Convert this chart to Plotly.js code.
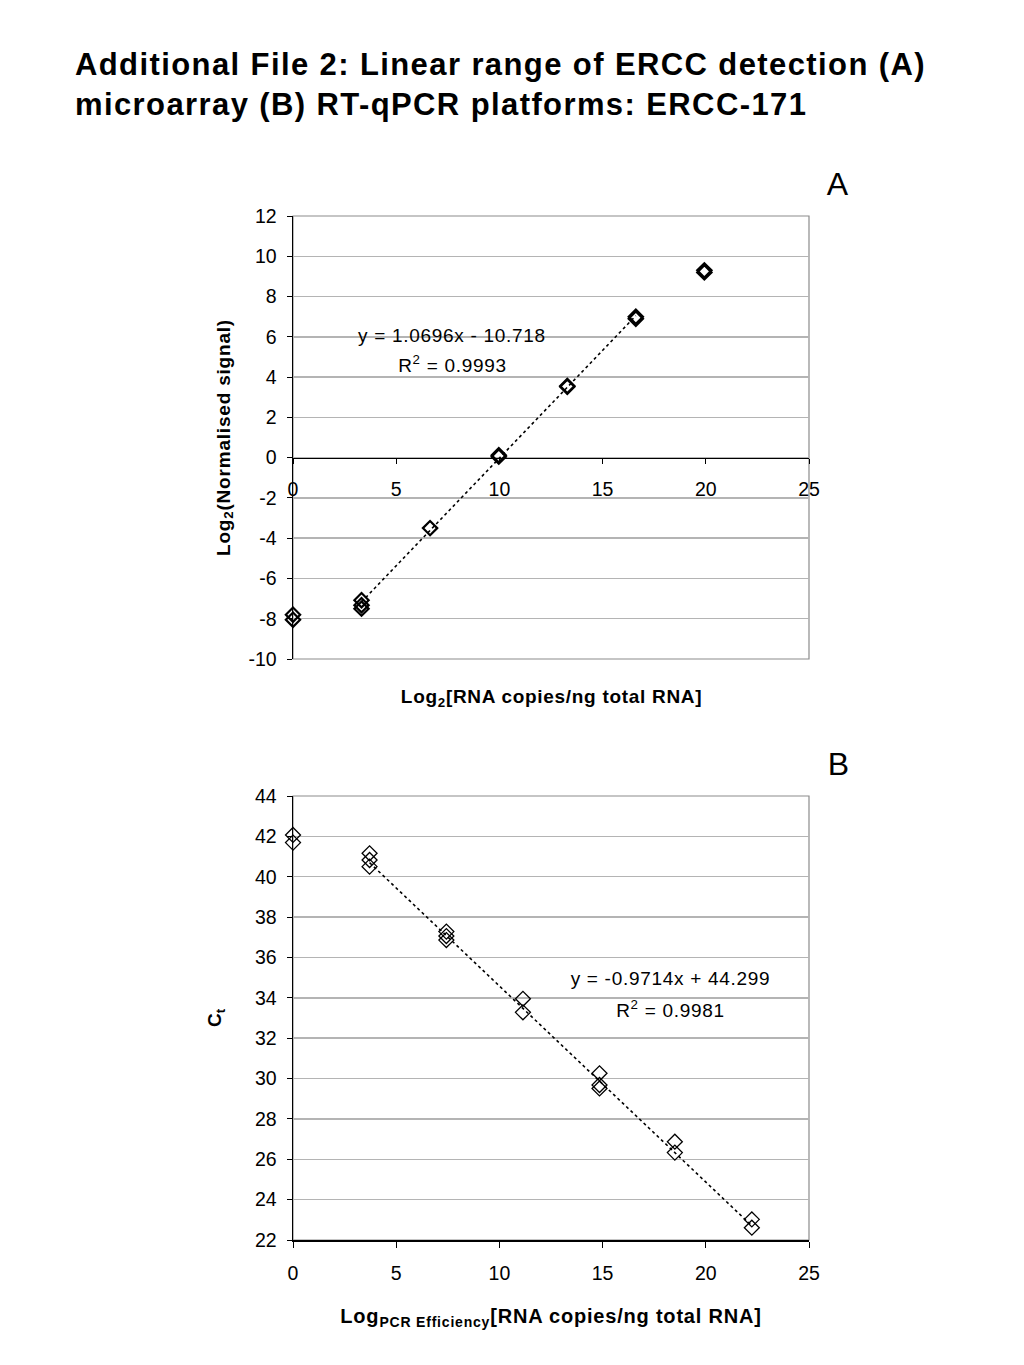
<!DOCTYPE html>
<html><head><meta charset="utf-8">
<script src="https://cdn.plot.ly/plotly-3.0.1.min.js"></script>
<style>
html,body{margin:0;padding:0;background:#fff}
#chart .gtitle{letter-spacing:1.4px}
#chart .ytitle,#chart .x2title{letter-spacing:0.8px}
#chart .annotation-text{letter-spacing:0.7px}
</style>
</head><body>
<div id="chart" style="width:1024px;height:1365px"></div>
<script>
// ---- Data ----
// Panel A: microarray
const xA = [0, 0, 3.32, 3.32, 3.32, 6.64, 9.97, 9.97, 13.29, 13.29, 16.61, 16.61, 19.93, 19.93];
const yA = [-7.8, -8.05, -7.08, -7.33, -7.5, -3.5, 0.05, 0.12, 3.52, 3.56, 6.9, 7.0, 9.2, 9.3];
const slopeA = 1.0696, interceptA = -10.718, r2A = 0.9993;
const fitRangeA = [3.32, 16.61];
// Panel B: RT-qPCR
const xB = [0, 0, 3.71, 3.71, 3.71, 7.43, 7.43, 7.43, 11.14, 11.14, 14.85, 14.85, 14.85, 18.5, 18.5, 22.23, 22.23];
const yB = [42.07, 41.69, 41.16, 40.83, 40.5, 37.28, 37.06, 36.86, 33.95, 33.28, 30.26, 29.68, 29.51, 26.87, 26.33, 23.02, 22.61];
const slopeB = -0.9714, interceptB = 44.299, r2B = 0.9981;
const fitRangeB = [3.71, 22.23];
// Tick values
const xTicks = [0, 5, 10, 15, 20, 25];
const yTicksA = [-10, -8, -6, -4, -2, 0, 2, 4, 6, 8, 10, 12];
const yTicksB = [22, 24, 26, 28, 30, 32, 34, 36, 38, 40, 42, 44];

const fontFam = '"Liberation Sans", Arial, sans-serif';
const fmtEq = (m, b) => 'y = ' + m + 'x ' + (b < 0 ? '- ' + Math.abs(b) : '+ ' + b);

const traces = [
  {x: xA, y: yA, xaxis: 'x', yaxis: 'y', mode: 'markers', type: 'scatter', cliponaxis: false,
   marker: {symbol: 'diamond-open', size: 11, color: '#000', line: {width: 2.2, color: '#000'}}},
  {x: fitRangeA, y: fitRangeA.map(v => slopeA * v + interceptA), xaxis: 'x', yaxis: 'y',
   mode: 'lines', type: 'scatter', line: {color: '#000', width: 1.6, dash: 'dot'}},
  {x: xB, y: yB, xaxis: 'x2', yaxis: 'y2', mode: 'markers', type: 'scatter', cliponaxis: false,
   marker: {symbol: 'diamond-open', size: 11.5, color: '#000', line: {width: 1.3, color: '#000'}}},
  {x: fitRangeB, y: fitRangeB.map(v => slopeB * v + interceptB), xaxis: 'x2', yaxis: 'y2',
   mode: 'lines', type: 'scatter', line: {color: '#000', width: 1.6, dash: 'dot'}}
];

const H = 1365, W = 1024;
const domX = [293 / W, 809 / W];
const domYA = [1 - 659 / H, 1 - 216 / H];
const domYB = [1 - 1240 / H, 1 - 796 / H];
const zeroPosA = domYA[0] + (0 - (-10)) / 22 * (domYA[1] - domYA[0]);

const tickFont = {family: fontFam, size: 19.5, color: '#000'};
const axTitleFont = {family: fontFam, size: 19, color: '#000', weight: 'bold'};
const eqFont = {family: fontFam, size: 19, color: '#000'};

const layout = {
  width: W, height: H,
  margin: {l: 0, r: 0, t: 0, b: 0},
  paper_bgcolor: '#fff', plot_bgcolor: '#fff',
  showlegend: false,
  font: {family: fontFam, color: '#000'},
  title: {text: '<b>Additional File 2: Linear range of ERCC detection (A)<br>microarray (B) RT-qPCR platforms: ERCC-171</b>',
          x: 75 / W, xanchor: 'left', y: 1 - 75 / H, yanchor: 'middle',
          font: {family: fontFam, size: 31, color: '#000'}},
  xaxis: {domain: domX, range: [0, 25], anchor: 'free', position: zeroPosA,
          tickvals: xTicks, ticktext: xTicks.map(String), tickfont: tickFont, ticklabelstandoff: 8,
          showgrid: false, zeroline: false, showline: true, linecolor: '#000', linewidth: 1.5,
          ticks: 'outside', ticklen: 5, tickcolor: '#000'},
  yaxis: {domain: domYA, range: [-10, 12], anchor: 'x',
          tickvals: yTicksA, ticktext: yTicksA.map(String), tickfont: tickFont, ticklabelstandoff: 6,
          showgrid: true, gridcolor: '#b4b4b4', gridwidth: 1.5, zeroline: false,
          showline: true, linecolor: '#000', linewidth: 1.5, ticks: 'outside', ticklen: 5, tickcolor: '#000',
          title: {text: 'Log<sub>2</sub>(Normalised signal)', font: axTitleFont, standoff: 13}},
  xaxis2: {domain: domX, range: [0, 25], anchor: 'y2',
          tickvals: xTicks, ticktext: xTicks.map(String), tickfont: tickFont, ticklabelstandoff: 9,
          showgrid: false, zeroline: false, showline: true, linecolor: '#000', linewidth: 1.5,
          ticks: 'outside', ticklen: 6, tickcolor: '#000',
          title: {text: 'Log<sub>PCR Efficiency</sub>[RNA copies/ng total RNA]', font: {family: fontFam, size: 20, color: '#000', weight: 'bold'}, standoff: 26}},
  yaxis2: {domain: domYB, range: [22, 44], anchor: 'x2',
          tickvals: yTicksB, ticktext: yTicksB.map(String), tickfont: tickFont, ticklabelstandoff: 6,
          showgrid: true, gridcolor: '#b4b4b4', gridwidth: 1.5, zeroline: false,
          showline: true, linecolor: '#000', linewidth: 1.5, ticks: 'outside', ticklen: 5, tickcolor: '#000',
          title: {text: 'C<sub>t</sub>', font: axTitleFont, standoff: 28}},
  shapes: [
    {type: 'rect', xref: 'x domain', yref: 'y domain', x0: 0, x1: 1, y0: 0, y1: 1,
     line: {color: '#8c8c8c', width: 1.2}, layer: 'below'},
    {type: 'rect', xref: 'x2 domain', yref: 'y2 domain', x0: 0, x1: 1, y0: 0, y1: 1,
     line: {color: '#8c8c8c', width: 1.2}, layer: 'below'}
  ],
  annotations: [
    {text: 'A', xref: 'paper', yref: 'paper', x: 838 / W, y: 1 - 184 / H, xanchor: 'center', yanchor: 'middle',
     showarrow: false, font: {family: fontFam, size: 32, color: '#000'}},
    {text: 'B', xref: 'paper', yref: 'paper', x: 838 / W, y: 1 - 764 / H, xanchor: 'center', yanchor: 'middle',
     showarrow: false, font: {family: fontFam, size: 32, color: '#000'}},
    {text: '<b>Log<sub>2</sub>[RNA copies/ng total RNA]</b>', xref: 'paper', yref: 'paper',
     x: 551 / W, y: 1 - 698 / H, xanchor: 'center', yanchor: 'middle', showarrow: false, font: axTitleFont},
    {text: fmtEq(slopeA, interceptA), xref: 'paper', yref: 'paper', x: 452 / W, y: 1 - 335 / H,
     xanchor: 'center', yanchor: 'middle', showarrow: false, font: eqFont},
    {text: 'R<sup>2</sup> = ' + r2A, xref: 'paper', yref: 'paper', x: 452 / W, y: 1 - 364 / H,
     xanchor: 'center', yanchor: 'middle', showarrow: false, font: eqFont},
    {text: fmtEq(slopeB, interceptB), xref: 'paper', yref: 'paper', x: 670 / W, y: 1 - 978 / H,
     xanchor: 'center', yanchor: 'middle', showarrow: false, font: eqFont},
    {text: 'R<sup>2</sup> = ' + r2B, xref: 'paper', yref: 'paper', x: 670 / W, y: 1 - 1009 / H,
     xanchor: 'center', yanchor: 'middle', showarrow: false, font: eqFont}
  ]
};

Plotly.newPlot('chart', traces, layout, {displayModeBar: false, staticPlot: true});
</script>
</body></html>
